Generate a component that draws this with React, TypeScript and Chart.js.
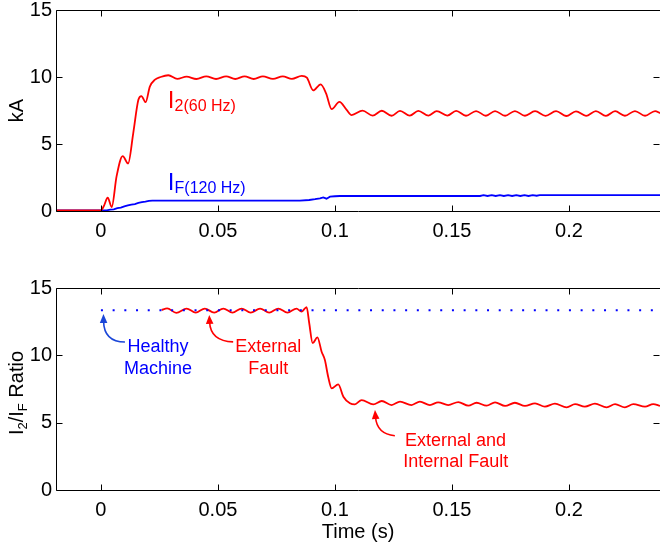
import React, { useEffect, useRef } from 'react';
import { Chart, registerables } from 'chart.js';

Chart.register(...registerables);

const FONT = '"Liberation Sans", Arial, Helvetica, sans-serif';

// Axis extents and tick labels
const X_MIN = -0.0192;
const X_MAX = 0.2389;
const X_TICKS = [0, 0.05, 0.1, 0.15, 0.2];
const Y_TICKS = [0, 5, 10, 15];

// Top panel: I2 (60 Hz) in kA
const i2Time = [
  -0.0192, 0.0, 0.0012, 0.0029, 0.0046, 0.0067, 0.0093, 0.0116, 0.0138, 0.016, 0.0173, 0.0191, 0.0209,
  0.0231, 0.0255, 0.0288, 0.0326, 0.0366, 0.0408, 0.045, 0.0492, 0.0535, 0.0574, 0.0614, 0.0653, 0.0692,
  0.0735, 0.0777, 0.0816, 0.0858, 0.088, 0.0907, 0.0939, 0.0962, 0.0986, 0.1019, 0.105, 0.1071, 0.1118,
  0.1161, 0.12, 0.1242, 0.1278, 0.132, 0.1356, 0.14, 0.1435, 0.148, 0.1518, 0.156, 0.1603, 0.1645, 0.1684,
  0.1727, 0.1769, 0.1812, 0.1855, 0.19, 0.1945, 0.1988, 0.203, 0.2073, 0.2115, 0.2158, 0.2197, 0.2239,
  0.2282, 0.2325, 0.2368, 0.2389,
];
const i2Values = [
  0.05, 0.05, 0.35, 0.99, 0.3, 2.6, 4.1, 3.55, 5.8, 8.3, 8.58, 8.12, 9.28,
  9.8, 10.0, 10.13, 9.86, 10.03, 9.85, 10.05, 9.85, 10.05, 9.85, 10.05, 9.85, 10.05,
  9.86, 10.05, 9.86, 10.09, 9.95, 9.0, 9.45, 8.78, 7.6, 8.14, 7.54, 7.16, 7.49,
  7.12, 7.48, 7.11, 7.47, 7.12, 7.47, 7.12, 7.46, 7.12, 7.47, 7.11, 7.46, 7.11, 7.46,
  7.11, 7.46, 7.11, 7.45, 7.1, 7.45, 7.09, 7.44, 7.1, 7.45, 7.1, 7.45, 7.11,
  7.46, 7.11, 7.46, 7.3,
];

// Top panel: IF (120 Hz) in kA
const ifTime = [
  -0.0192, 0.0025, 0.004, 0.0055, 0.007, 0.0085, 0.01, 0.0115, 0.013, 0.0145, 0.016, 0.0175, 0.019,
  0.0205, 0.022, 0.085, 0.089, 0.0915, 0.0936, 0.095, 0.0964, 0.0979, 0.1, 0.1021, 0.162, 0.1635,
  0.1652, 0.167, 0.1687, 0.1705, 0.1722, 0.174, 0.1757, 0.1775, 0.1792, 0.181, 0.1827, 0.1845, 0.1862,
  0.1875, 0.2389,
];
const ifValues = [
  0.05, 0.05, 0.1, 0.12, 0.22, 0.25, 0.35, 0.42, 0.48, 0.52, 0.6, 0.66, 0.7,
  0.76, 0.78, 0.78, 0.82, 0.88, 0.95, 1.02, 0.92, 1.07, 1.1, 1.12, 1.12, 1.18,
  1.12, 1.18, 1.12, 1.18, 1.12, 1.18, 1.12, 1.18, 1.12, 1.18, 1.12, 1.18, 1.14,
  1.19, 1.19,
];

// Bottom panel: I2/IF ratio (faulted machine)
const ratioTime = [
  0.0259, 0.0283, 0.0322, 0.0366, 0.0405, 0.0444, 0.0484, 0.0523, 0.0562, 0.0601, 0.064, 0.068, 0.0719,
  0.0758, 0.0797, 0.0836, 0.0857, 0.0879, 0.089, 0.0905, 0.0925, 0.0943, 0.0957, 0.0971, 0.0986, 0.1014,
  0.1036, 0.1064, 0.1085, 0.1114, 0.1164, 0.12, 0.1242, 0.1278, 0.1327, 0.1363, 0.1406, 0.1441, 0.1484,
  0.1527, 0.157, 0.1605, 0.1648, 0.1684, 0.1727, 0.1769, 0.1812, 0.1855, 0.1897, 0.194, 0.199, 0.2026,
  0.2068, 0.2111, 0.2161, 0.2197, 0.2239, 0.2275, 0.2325, 0.236, 0.2389,
];
const ratioValues = [
  13.37, 13.48, 13.16, 13.47, 13.17, 13.47, 13.17, 13.47, 13.17, 13.47, 13.17, 13.47, 13.17,
  13.47, 13.17, 13.47, 13.25, 13.58, 12.4, 10.9, 11.34, 10.27, 9.65, 8.41, 7.55, 7.85,
  6.93, 6.44, 6.36, 6.68, 6.36, 6.61, 6.31, 6.56, 6.31, 6.56, 6.31, 6.51, 6.31,
  6.53, 6.26, 6.48, 6.26, 6.51, 6.24, 6.48, 6.24, 6.43, 6.19, 6.41, 6.14, 6.38,
  6.19, 6.41, 6.14, 6.38, 6.14, 6.38, 6.19, 6.38, 6.25,
];

// Bottom panel: healthy machine ratio (dotted)
const healthyTime = [0, 0.2389];
const healthyValues = [13.35, 13.35];

const RED = '#ff0000';
const BLUE = '#0000ff';
const ARROW_BLUE = '#1a46d8';

type Part = { t: string; sub?: boolean };

function zip(xs: number[], ys: number[]) {
  return xs.map((x, i) => ({ x, y: ys[i] }));
}

function drawRich(
  ctx: CanvasRenderingContext2D,
  parts: Part[],
  x: number,
  y: number,
  size: number,
  subSize: number,
  subDrop: number,
  align: 'left' | 'center'
) {
  let w = 0;
  for (const p of parts) {
    ctx.font = `${p.sub ? subSize : size}px ${FONT}`;
    w += ctx.measureText(p.t).width;
  }
  let cx = align === 'center' ? x - w / 2 : x;
  ctx.textAlign = 'left';
  ctx.textBaseline = 'alphabetic';
  for (const p of parts) {
    ctx.font = `${p.sub ? subSize : size}px ${FONT}`;
    ctx.fillText(p.t, cx, y + (p.sub ? subDrop : 0));
    cx += ctx.measureText(p.t).width;
  }
}

function drawFrame(chart: any) {
  const { ctx, chartArea: a, scales } = chart;
  const xs = scales.x;
  const ys = scales.y;
  const L = Math.round(a.left) + 0.5;
  const R = Math.round(a.right) + 0.5;
  const T = Math.round(a.top) + 0.5;
  const B = Math.round(a.bottom) + 0.5;
  const tl = 6;
  ctx.save();
  ctx.strokeStyle = '#000';
  ctx.lineWidth = 1;
  ctx.beginPath();
  ctx.rect(L, T, R - L, B - T);
  for (const v of X_TICKS) {
    const px = Math.round(xs.getPixelForValue(v)) + 0.5;
    ctx.moveTo(px, B);
    ctx.lineTo(px, B - tl);
    ctx.moveTo(px, T);
    ctx.lineTo(px, T + tl);
  }
  for (const v of Y_TICKS) {
    const py = Math.round(ys.getPixelForValue(v)) + 0.5;
    ctx.moveTo(L, py);
    ctx.lineTo(L + tl, py);
    ctx.moveTo(R - 1, py);
    ctx.lineTo(R - 1 - tl, py);
  }
  ctx.stroke();
  ctx.restore();
}

function drawArrow(
  chart: any,
  start: [number, number],
  ctrl: [number, number],
  tip: [number, number],
  color: string
) {
  const { ctx, scales } = chart;
  const px = (p: [number, number]) => [scales.x.getPixelForValue(p[0]), scales.y.getPixelForValue(p[1])];
  const [sx, sy] = px(start);
  const [cx, cy] = px(ctrl);
  const [tx, ty] = px(tip);
  const dx = tx - cx;
  const dy = ty - cy;
  const len = Math.hypot(dx, dy) || 1;
  const ux = dx / len;
  const uy = dy / len;
  const headLen = 9;
  const headHalf = 3.8;
  const bx = tx - ux * headLen;
  const by = ty - uy * headLen;
  ctx.save();
  ctx.strokeStyle = color;
  ctx.fillStyle = color;
  ctx.lineWidth = 1.6;
  ctx.beginPath();
  ctx.moveTo(sx, sy);
  ctx.quadraticCurveTo(cx, cy, bx + ux * 2, by + uy * 2);
  ctx.stroke();
  ctx.beginPath();
  ctx.moveTo(tx, ty);
  ctx.lineTo(bx - uy * headHalf, by + ux * headHalf);
  ctx.lineTo(bx + uy * headHalf, by - ux * headHalf);
  ctx.closePath();
  ctx.fill();
  ctx.restore();
}

function drawYTitle(chart: any, parts: Part[], baseX: number, shift: number) {
  const { ctx, chartArea: a } = chart;
  ctx.save();
  ctx.fillStyle = '#000';
  ctx.translate(baseX, (a.top + a.bottom) / 2 + shift);
  ctx.rotate(-Math.PI / 2);
  drawRich(ctx, parts, 0, 0, 20, 13, 4, 'center');
  ctx.restore();
}

function textAt(chart: any, text: string, xv: number, yv: number, color: string, size: number) {
  const { ctx, scales } = chart;
  ctx.save();
  ctx.fillStyle = color;
  ctx.font = `${size}px ${FONT}`;
  ctx.textAlign = 'center';
  ctx.textBaseline = 'alphabetic';
  ctx.fillText(text, scales.x.getPixelForValue(xv), scales.y.getPixelForValue(yv));
  ctx.restore();
}

function richAt(chart: any, parts: Part[], xv: number, yv: number, color: string) {
  const { ctx, scales } = chart;
  ctx.save();
  ctx.fillStyle = color;
  drawRich(ctx, parts, scales.x.getPixelForValue(xv), scales.y.getPixelForValue(yv), 24, 16, 3, 'left');
  ctx.restore();
}

function makeScales(xHeight: number) {
  return {
    x: {
      type: 'linear',
      min: X_MIN,
      max: X_MAX,
      grid: { display: false, drawTicks: false },
      border: { display: false },
      ticks: {
        font: { size: 20, family: FONT },
        color: '#000',
        padding: 8,
        maxRotation: 0,
        autoSkip: false,
        callback: (v: any) => String(v),
      },
      afterBuildTicks: (s: any) => {
        s.ticks = X_TICKS.map((v) => ({ value: v }));
      },
      afterFit: (s: any) => {
        s.height = xHeight;
        s.paddingLeft = 0;
        s.paddingRight = 0;
      },
    },
    y: {
      type: 'linear',
      min: 0,
      max: 15,
      grid: { display: false, drawTicks: false },
      border: { display: false },
      ticks: {
        font: { size: 20, family: FONT },
        color: '#000',
        padding: 4,
        callback: (v: any) => String(v),
      },
      afterBuildTicks: (s: any) => {
        s.ticks = Y_TICKS.map((v) => ({ value: v }));
      },
      afterFit: (s: any) => {
        s.width = 56;
        s.paddingTop = 0;
        s.paddingBottom = 0;
      },
    },
  };
}

export default function App() {
  const topRef = useRef<HTMLCanvasElement>(null);
  const botRef = useRef<HTMLCanvasElement>(null);

  useEffect(() => {
    const common = {
      responsive: false,
      animation: false,
      events: [],
      plugins: { legend: { display: false }, tooltip: { enabled: false } },
    };

    const topChart = new Chart(topRef.current as HTMLCanvasElement, {
      type: 'line',
      data: {
        datasets: [
          {
            data: zip(i2Time, i2Values),
            borderColor: RED,
            borderWidth: 1.8,
            pointRadius: 0,
            tension: 0.4,
            cubicInterpolationMode: 'monotone',
          },
          {
            data: zip(ifTime, ifValues),
            borderColor: BLUE,
            borderWidth: 1.8,
            pointRadius: 0,
            tension: 0,
          },
        ],
      },
      options: {
        ...common,
        layout: { padding: { top: 10, left: 0, right: 0, bottom: 0 } },
        scales: makeScales(39),
      } as any,
      plugins: [
        {
          id: 'decorTop',
          afterDraw: (chart: any) => {
            drawFrame(chart);
            drawYTitle(chart, [{ t: 'kA' }], 22.5, 0);
            richAt(chart, [{ t: 'I' }, { t: '2(60 Hz)', sub: true }], 0.0286, 7.66, RED);
            richAt(chart, [{ t: 'I' }, { t: 'F(120 Hz)', sub: true }], 0.0286, 1.57, BLUE);
          },
        },
      ],
    } as any);

    const botChart = new Chart(botRef.current as HTMLCanvasElement, {
      type: 'line',
      data: {
        datasets: [
          {
            data: zip(healthyTime, healthyValues),
            borderColor: BLUE,
            borderWidth: 2,
            borderDash: [2, 9.7],
            borderCapStyle: 'butt',
            pointRadius: 0,
            tension: 0,
          },
          {
            data: zip(ratioTime, ratioValues),
            borderColor: RED,
            borderWidth: 1.8,
            pointRadius: 0,
            tension: 0.4,
            cubicInterpolationMode: 'monotone',
          },
        ],
      },
      options: {
        ...common,
        layout: { padding: { top: 38, left: 0, right: 0, bottom: 0 } },
        scales: makeScales(52),
      } as any,
      plugins: [
        {
          id: 'decorBottom',
          afterDraw: (chart: any) => {
            const { ctx, chartArea: a } = chart;
            drawFrame(chart);
            drawYTitle(
              chart,
              [{ t: 'I' }, { t: '2', sub: true }, { t: '/I' }, { t: 'F', sub: true }, { t: ' Ratio' }],
              22.5,
              4
            );
            ctx.save();
            ctx.fillStyle = '#000';
            ctx.font = `20px ${FONT}`;
            ctx.textAlign = 'center';
            ctx.textBaseline = 'alphabetic';
            ctx.fillText('Time (s)', (a.left + a.right) / 2, a.bottom + 48);
            ctx.restore();

            textAt(chart, 'Healthy', 0.0244, 10.27, BLUE, 18);
            textAt(chart, 'Machine', 0.0244, 8.61, BLUE, 18);
            textAt(chart, 'External', 0.0715, 10.25, RED, 18);
            textAt(chart, 'Fault', 0.0715, 8.6, RED, 18);
            textAt(chart, 'External and', 0.1515, 3.29, RED, 18);
            textAt(chart, 'Internal Fault', 0.1516, 1.73, RED, 18);

            drawArrow(chart, [0.01026, 10.99], [0.00128, 10.99], [0.00107, 13.07], ARROW_BLUE);
            drawArrow(chart, [0.0565, 11.0], [0.0468, 11.06], [0.0463, 13.0], RED);
            drawArrow(chart, [0.1256, 4.03], [0.1179, 4.16], [0.1171, 5.94], RED);
          },
        },
      ],
    } as any);

    return () => {
      topChart.destroy();
      botChart.destroy();
    };
  }, []);

  return (
    <div style={{ position: 'fixed', left: 0, top: 0, width: 660, height: 542, background: '#fff' }}>
      <canvas
        ref={topRef}
        width={660}
        height={250}
        style={{ position: 'absolute', left: 0, top: 0, width: 660, height: 250, display: 'block' }}
      />
      <canvas
        ref={botRef}
        width={660}
        height={292}
        style={{ position: 'absolute', left: 0, top: 250, width: 660, height: 292, display: 'block' }}
      />
    </div>
  );
}
